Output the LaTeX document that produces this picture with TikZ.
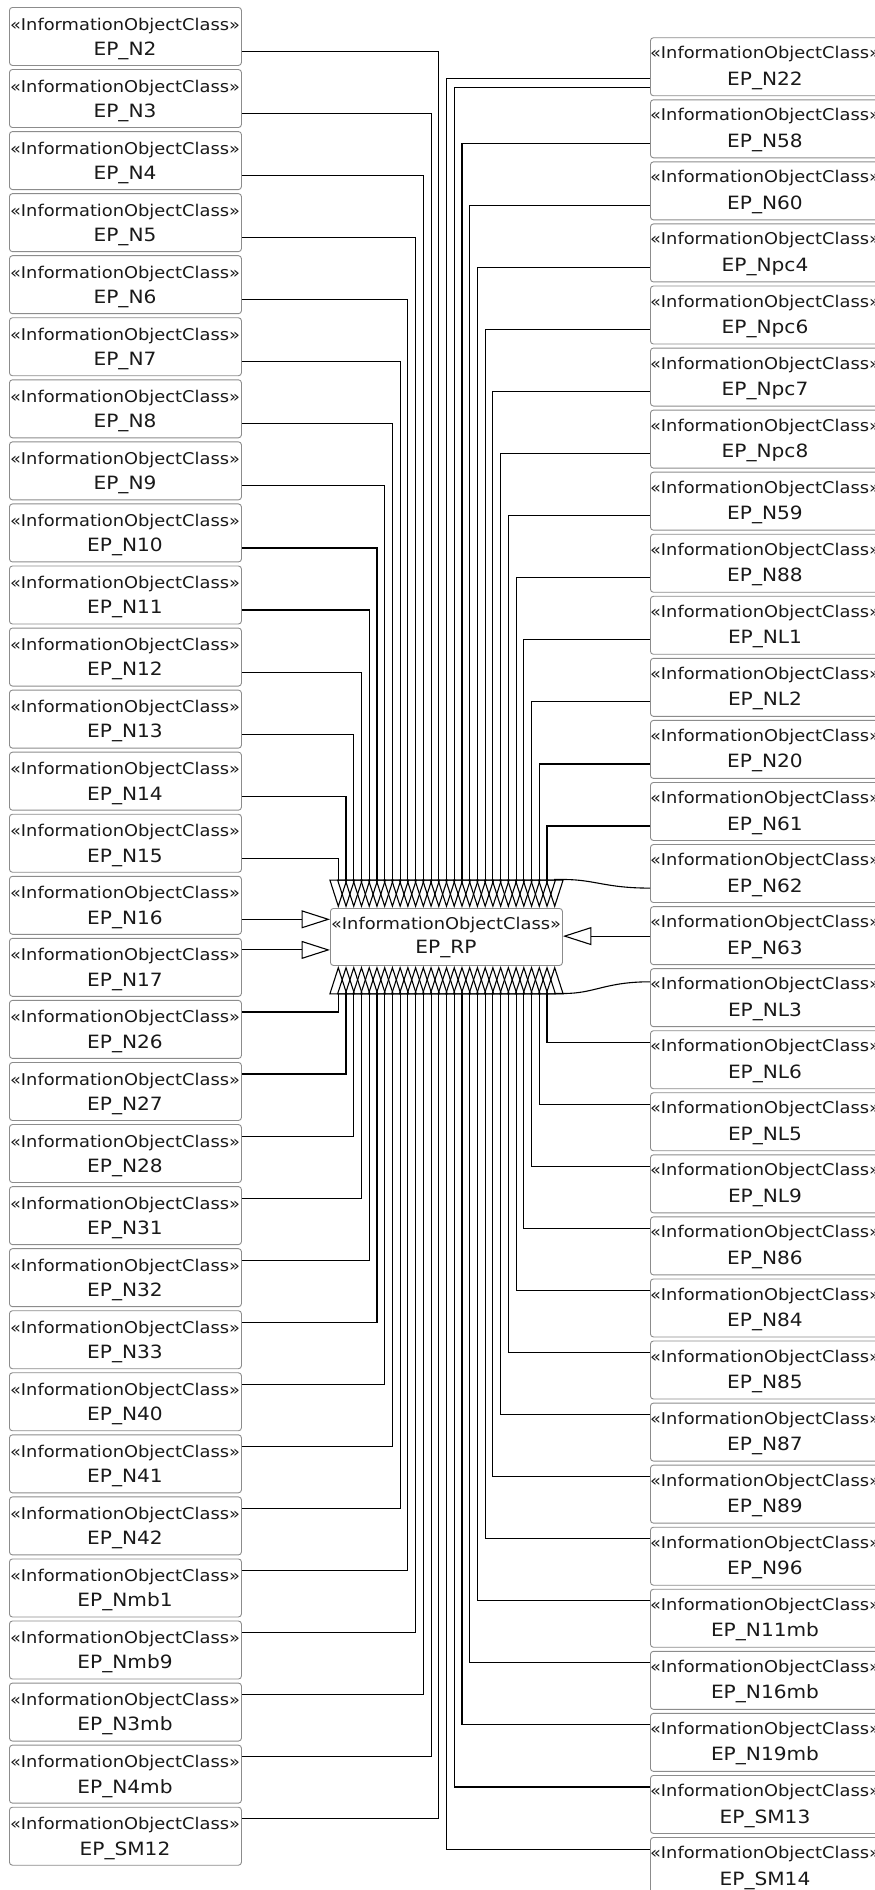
\documentclass[tikz,border=0pt]{standalone}
\usepackage{fontspec}
\setmainfont{DejaVu Sans}[FakeStretch=1.1]
\usetikzlibrary{arrows.meta}
\definecolor{boxborder}{RGB}{140,140,140}
\definecolor{ink}{RGB}{25,25,25}
\newcommand{\stereofont}{\fontsize{16.2}{18}\selectfont}
\newcommand{\namefont}{\fontsize{18.3}{20}\selectfont}
\begin{document}
\begin{tikzpicture}[x=1pt,y=-1pt,
  ioc/.style={draw=boxborder, line width=0.9pt, rounded corners=3pt, fill=white,
    minimum width=232pt, minimum height=58pt, inner sep=0pt, anchor=north west},
  stereo/.style={anchor=base, inner sep=0pt, text=ink, font=\stereofont},
  nm/.style={anchor=base, inner sep=0pt, text=ink, font=\namefont},
  conn/.style={line width=1.1pt, draw=black},
  gen/.style={conn, -{Triangle[open, length=28.5pt, width=18pt]}},
]
\path[use as bounding box, clip] (0,0) rectangle (875,1890);

% left column
\foreach \nme [count=\i from 0] in {N2,N3,N4,N5,N6,N7,N8,N9,N10,N11,N12,N13,N14,N15,N16,N17,N26,N27,N28,N31,N32,N33,N40,N41,N42,Nmb1,Nmb9,N3mb,N4mb,SM12}{
  \pgfmathsetmacro\yy{7+62.06*\i}
  \node[ioc] (L\i) at (9,\yy) {};
  \node[stereo] (Ls\i) at (125,{\yy+23}) {«InformationObjectClass»};
  \node[nm] (Ln\i) at (125,{\yy+48.3}) {EP\_\nme};
}
% right column
\foreach \nme [count=\k from 0] in {N22,N58,N60,Npc4,Npc6,Npc7,Npc8,N59,N88,NL1,NL2,N20,N61,N62,N63,NL3,NL6,NL5,NL9,N86,N84,N85,N87,N89,N96,N11mb,N16mb,N19mb,SM13,SM14}{
  \pgfmathsetmacro\yy{37.3+62.06*\k}
  \node[ioc] (R\k) at (650,\yy) {};
  \node[stereo] (Rs\k) at (765,{\yy+21.5}) {«InformationObjectClass»};
  \node[nm] (Rn\k) at (765,{\yy+48}) {EP\_\nme};
}
% central box
\node[ioc, minimum height=57pt] (RP) at (330,908) {};
\node[stereo] (RPs) at (446,929) {«InformationObjectClass»};
\node[nm] (RPn) at (446,953.3) {EP\_RP};

% left, upper group -> top of EP_RP
\foreach \i in {0,...,13}{
  \pgfmathsetmacro\yy{7+62.06*\i+44.5}
  \pgfmathsetmacro\xx{338.3+7.73*(13-\i)}
  \draw[gen] (L\i.east |- 0,\yy) -| (RP.north -| \xx,0);
}
% left, lower group -> bottom of EP_RP
\foreach \i in {16,...,29}{
  \pgfmathsetmacro\yy{7+62.06*\i+12}
  \pgfmathsetmacro\xx{338.3+7.73*(\i-16)}
  \draw[gen] (L\i.east |- 0,\yy) -| (RP.south -| \xx,0);
}
% left, direct
\draw[gen] (L14.east |- 0,919.3) -- (RP.west |- 0,919.3);
\draw[gen] (L15.east |- 0,949.9) -- (RP.west |- 0,949.9);

% right, upper group
\draw[gen] (R0.west |- 0,78.3) -| (RP.north -| 446.5,0);
\draw[gen] (R0.west |- 0,87.3) -| (RP.north -| 454.2,0);
\foreach \k in {1,...,12}{
  \pgfmathsetmacro\yy{37.3+62.06*\k+44}
  \pgfmathsetmacro\xx{338.3+7.73*(15+\k)}
  \draw[gen] (R\k.west |- 0,\yy) -| (RP.north -| \xx,0);
}
% right, lower group
\foreach \k in {16,...,29}{
  \pgfmathsetmacro\yy{37.3+62.06*\k+12}
  \pgfmathsetmacro\xx{338.3+7.73*(43-\k)}
  \draw[gen] (R\k.west |- 0,\yy) -| (RP.south -| \xx,0);
}
% right, curved and direct
\draw[gen] (R13.west |- 0,888.1) .. controls (605,888.1) and (595,879.5) .. (563.7,879.5) -- (554.7,879.5) -- (RP.north -| 554.7,0);
\draw[gen] (R15.west |- 0,981.8) .. controls (605,981.8) and (595,993.5) .. (563.7,993.5) -- (554.7,993.5) -- (RP.south -| 554.7,0);
\draw[gen] (R14.west |- 0,936.1) -- (RP.east |- 0,936.1);
\end{tikzpicture}
\end{document}
